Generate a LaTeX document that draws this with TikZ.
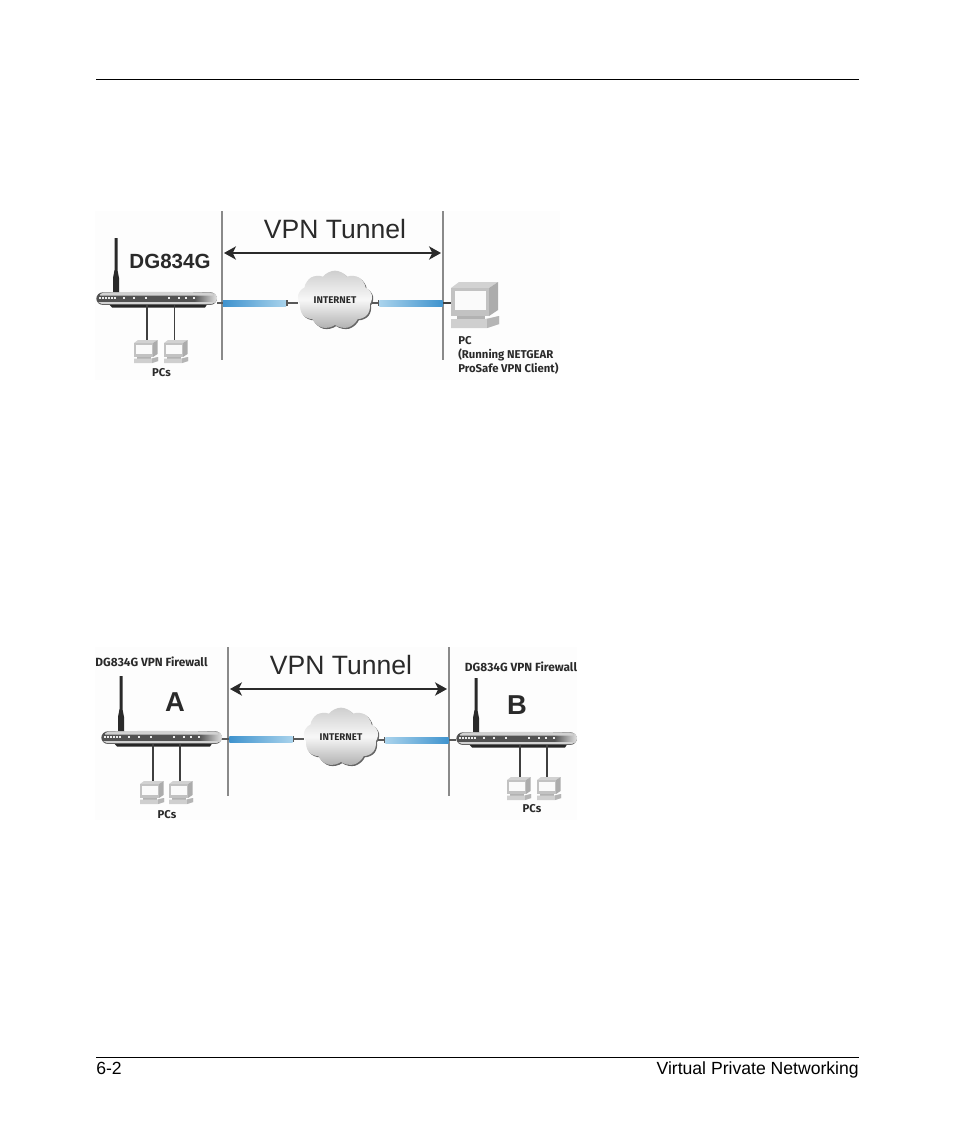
\documentclass[tikz,border=0pt]{standalone}
\usepackage{fontspec}
\setmainfont{Liberation Sans}
\newfontfamily\labelfont{Fira Sans}
\usetikzlibrary{shapes.symbols,arrows.meta,calc}
\definecolor{vline}{HTML}{8A8A8A}
\definecolor{ink}{HTML}{2A2A2A}
\definecolor{barblue}{HTML}{3F93CE}
\definecolor{barpale}{HTML}{A9D3EC}
\definecolor{papertint}{HTML}{FDFDFD}
\tikzset{
  x=0.75pt,y=-0.75pt,
  rule/.style={line width=0.75pt,black},
  divider/.style={line width=1.1pt,vline},
  tunnel/.style={line width=1pt,ink,{Stealth[length=9pt,width=10pt,inset=2.5pt]}-{Stealth[length=9pt,width=10pt,inset=2.5pt]}},
  title/.style={inner sep=0,font=\fontsize{19.9pt}{22pt}\selectfont,text=ink},
  big/.style={inner sep=0,font=\fontsize{15.4pt}{17pt}\selectfont\bfseries,text=ink},
  letter/.style={inner sep=0,font=\fontsize{20.5pt}{22pt}\selectfont\bfseries,text=ink},
  small/.style={inner sep=0,font=\labelfont\fontsize{8.5pt}{10.3pt}\selectfont\bfseries,text=ink,align=left},
  firewall/.style={inner sep=0,font=\labelfont\fontsize{8.9pt}{10.3pt}\selectfont\bfseries,text=ink},
  cloudtext/.style={inner sep=0,font=\labelfont\fontsize{7.3pt}{8pt}\selectfont\bfseries,text=ink},
  cloudbase/.style={cloud,cloud puffs=9,cloud puff arc=105,aspect=1.25,inner sep=0,minimum width=56pt,minimum height=44pt},
  netcloud/.style={cloudbase,top color=gray!38,bottom color=gray!62,middle color=gray!6},
  cloudshadow/.style={cloudbase,fill=gray!80!black},
  barL/.style={minimum width=47.5pt,minimum height=4.5pt,inner sep=0,left color=barblue,right color=barpale},
  barR/.style={minimum width=47.5pt,minimum height=4.5pt,inner sep=0,left color=barpale,right color=barblue},
  wire/.style={line width=0.8pt,gray!70!black},
  tickwire/.style={wire,{Bar[width=4pt,length=0.8pt]}-},
  lan/.style={line width=0.9pt,gray!25!ink},
  routerbody/.style={rounded corners=5pt,minimum width=90.5pt,minimum height=9.5pt,inner sep=0,fill=black!68},
}
% \routerat{name}{left x}{top y}{antenna top}
\newcommand{\routerat}[4]{%
  \begin{scope}[shift={(#2,#3)}]
    \fill[ink] (17,0) -- (17,-14) -- (18.5,-22) -- (18.5,-#4) -- (21.5,-#4) -- (21.5,-22) -- (23,-14) -- (23,0) -- cycle;
    \fill[black!85] (12,11) -- (112,11) -- (109,15.5) -- (16,15.5) -- cycle;
    \node[routerbody,anchor=north west] (#1) at (0,0) {};
    \shade[left color=black!68,right color=gray!22,rounded corners=4pt] (98,0.5) -- (121,0.5) -- (121,12) -- (98,12) -- cycle;
    \fill[gray!35,rounded corners=1pt] (6,0.8) .. controls (40,-0.5) and (80,-0.5) .. (115,0.8) -- (118,3.5) -- (3,3.5) -- cycle;
    \foreach \lx in {27,37,49,72,82,89,97}{\fill[gray!15] (\lx,5.3) rectangle +(1.8,1.8);}
    \foreach \lx in {3,6,9,12,15,18}{\fill[gray!15] (\lx,5.2) rectangle +(1.7,2);}
    \fill[gray!35] (2,10) -- (119,10) -- (115,12) -- (6,12) -- cycle;
  \end{scope}}
% \pcicon{name}{left x}{top y}{scale}
\newcommand{\pcicon}[4]{%
  \begin{scope}[shift={(#2,#3)},scale=#4]
    \fill[gray!35] (0,3) -- (4,0) -- (23.5,0) -- (19,3) -- cycle;
    \fill[gray!65] (19,3) -- (23.5,0) -- (23.5,14) -- (19,17) -- cycle;
    \fill[gray!48] (0,3) rectangle (19,17);
    \fill[gray!4] (1.8,4.6) rectangle (17.5,14);
    \fill[gray!60] (3,17) rectangle (17,18.5);
    \fill[gray!38] (0,18.5) -- (17,18.5) -- (24,17) -- (24,21) -- (18,23) -- (0,23) -- cycle;
    \fill[gray!58] (18,23) -- (24,21) -- (24,17) -- (18,18.5) -- cycle;
    \coordinate (#1-center) at (12,11.5);
    \node[inner sep=0,minimum width={18pt*#4},minimum height={17pt*#4}] (#1) at (#1-center) {};
  \end{scope}}
% \inet{name}{cx}{cy}
\newcommand{\inet}[3]{%
  \node[cloudshadow] at (#2+1.2,#3+1.2) {};
  \node[netcloud] (#1) at (#2,#3) {};
  \node[cloudtext] (#1-label) at (#2,#3) {INTERNET};}
\begin{document}
\begin{tikzpicture}
\useasboundingbox (0,0) rectangle (954,1145);
\fill[white] (0,0) rectangle (954,1145);
\fill[papertint] (95,211) rectangle (560,380);
\fill[papertint] (95,647) rectangle (577,820);
% page furniture
\coordinate (hl) at (96,80); \coordinate (hr) at (859,80);
\coordinate (fl) at (96,1057); \coordinate (fr) at (859,1057);
\draw[rule] (hl) -- (hr);
\draw[rule] (fl) -- (fr);
\node[inner sep=0,anchor=base west,font=\fontsize{13.2pt}{15pt}\selectfont] (pageno) at (96,1074) {6-2};
\node[inner sep=0,anchor=base east,font=\fontsize{13.2pt}{15pt}\selectfont] (chapter) at (859,1074) {Virtual Private Networking};

% ---- first diagram
\coordinate (d1a) at (222,211); \coordinate (d1b) at (222,360);
\coordinate (d1c) at (443,211); \coordinate (d1d) at (443,360);
\draw[divider] (d1a) -- (d1b);
\draw[divider] (d1c) -- (d1d);
\coordinate (d1l) at (224,253); \coordinate (d1r) at (441,253);
\draw[tunnel] (d1l) -- (d1r);
\node[title] (t1) at (335,229) {VPN Tunnel};
\routerat{r1}{96}{292}{54}
\node[big] (m1) at (170,261) {DG834G};
\pcicon{p1}{134}{340}{1}
\pcicon{p2}{164}{340}{1}
\node[small] (l1) at (161.5,373) {PCs};
\draw[lan] ([xshift=0.75pt]p1.north) -- ([xshift=0.75pt]p1.north |- r1.south);
\draw[lan] ([xshift=-1.2pt]p2.north) -- ([xshift=-1.2pt]p2.north |- r1.south);
\inet{c1}{335}{300}
\node[barL] (b1) at (254.5,303) {};
\node[barR] (b2) at (411,303) {};
\draw[wire] (r1.east |- b1.west) -- (b1.west);
\draw[tickwire] (b1.east) -- (b1.east -| c1.west);
\draw[tickwire] (b2.west) -- (b2.west -| c1.east);
\pcicon{p3}{451}{282}{2}
\draw[lan] (b2.east) -- (b2.east -| p3.west);
\node[small,anchor=north west] (l2) at (458,336.5) {PC\\(Running NETGEAR\\ProSafe VPN Client)};

% ---- second diagram
\coordinate (d2a) at (228,647); \coordinate (d2b) at (228,796);
\coordinate (d2c) at (449,647); \coordinate (d2d) at (449,796);
\draw[divider] (d2a) -- (d2b);
\draw[divider] (d2c) -- (d2d);
\coordinate (d2l) at (230,689); \coordinate (d2r) at (447,689);
\draw[tunnel] (d2l) -- (d2r);
\node[title] (t2) at (341,665) {VPN Tunnel};
\routerat{r2}{101}{731}{55}
\routerat{r3}{456}{732}{54}
\node[firewall] (l3) at (151.5,662) {DG834G VPN Firewall};
\node[firewall] (l4) at (521,667) {DG834G VPN Firewall};
\node[letter] (la) at (175,702) {A};
\node[letter] (lb) at (517,705) {B};
\pcicon{p4}{140}{781}{1}
\pcicon{p5}{169}{781}{1}
\pcicon{p6}{507}{777}{1}
\pcicon{p7}{537}{777}{1}
\node[small] (l5) at (167,815) {PCs};
\node[small] (l6) at (532,809) {PCs};
\draw[lan] ([xshift=0.75pt]p4.north) -- ([xshift=0.75pt]p4.north |- r2.south);
\draw[lan] ([xshift=-0.75pt]p5.north) -- ([xshift=-0.75pt]p5.north |- r2.south);
\draw[lan] ([xshift=0.75pt]p6.north) -- ([xshift=0.75pt]p6.north |- r3.south);
\draw[lan] ([xshift=-1.5pt]p7.north) -- ([xshift=-1.5pt]p7.north |- r3.south);
\inet{c2}{341}{737}
\node[barL] (b3) at (261,739) {};
\node[barR] (b4) at (417,740) {};
\draw[wire] (r2.east |- b3.west) -- (b3.west);
\draw[tickwire] (b3.east) -- (b3.east -| c2.west);
\draw[tickwire] (b4.west) -- (b4.west -| c2.east);
\draw[wire] (b4.east) -- (b4.east -| r3.west);
\end{tikzpicture}
\end{document}
